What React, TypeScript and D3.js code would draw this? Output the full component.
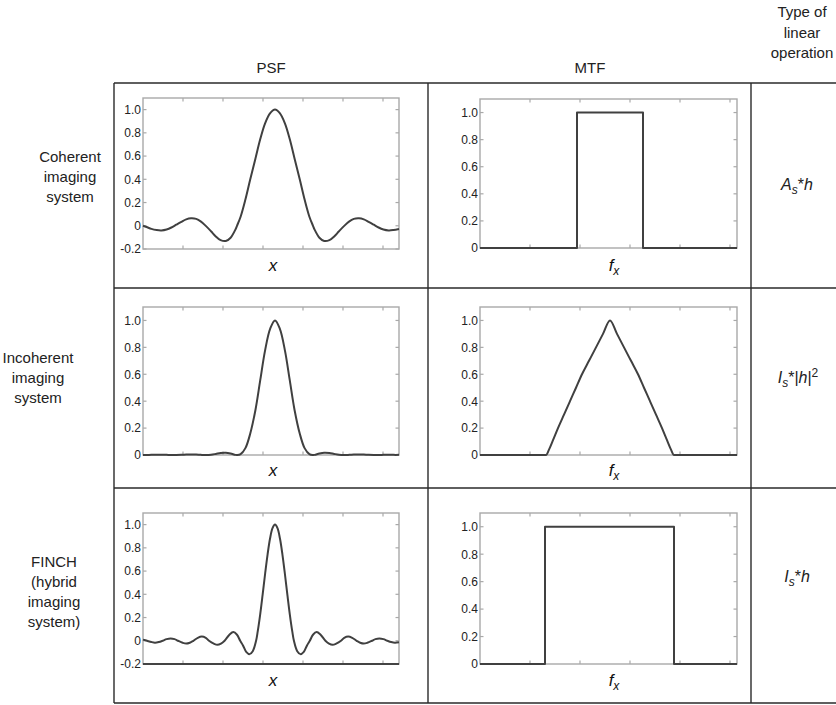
import React from 'react';
import * as d3 from 'd3';

// ---------- data ----------
const COLUMN_HEADERS = ['PSF', 'MTF'];
const OPERATION_HEADER = ['Type of', 'linear', 'operation'];
const ROW_LABELS = [
  ['Coherent', 'imaging', 'system'],
  ['Incoherent', 'imaging', 'system'],
  ['FINCH', '(hybrid', 'imaging', 'system)'],
];

const PSF_X_DOMAIN = [-3.3, 3.1];
const MTF_X_DOMAIN = [-2.6, 2.54];
const PSF_X_TICKS = [-2.3, -1.3, -0.3, 0.7, 1.7, 2.7];
const MTF_X_TICKS = [-1.6, -0.6, 0.4, 1.4, 2.4];
const Y_TICKS_SIGNED = [-0.2, 0, 0.2, 0.4, 0.6, 0.8, 1.0];
const Y_TICKS_POS = [0, 0.2, 0.4, 0.6, 0.8, 1.0];

const COHERENT_PSF_X = [-3.30, -3.21, -3.09, -2.96, -2.84, -2.71, -2.59, -2.47, -2.34, -2.22, -2.10, -1.97, -1.85, -1.73, -1.60, -1.48, -1.36, -1.23, -1.11, -0.99, -0.95, -0.86, -0.74, -0.62, -0.49, -0.37, -0.25, -0.12, 0, 0.12, 0.25, 0.37, 0.49, 0.62, 0.74, 0.86, 0.95, 0.99, 1.11, 1.23, 1.36, 1.48, 1.60, 1.73, 1.85, 1.97, 2.10, 2.22, 2.34, 2.47, 2.59, 2.71, 2.84, 2.96, 3.10];
const COHERENT_PSF_Y = [0.000, -0.011, -0.027, -0.037, -0.040, -0.032, -0.015, 0.009, 0.034, 0.055, 0.064, 0.059, 0.036, -0.001, -0.047, -0.092, -0.124, -0.131, -0.103, -0.033, 0.000, 0.078, 0.226, 0.398, 0.577, 0.744, 0.880, 0.969, 1.000, 0.969, 0.880, 0.744, 0.577, 0.398, 0.226, 0.078, 0.000, -0.033, -0.103, -0.131, -0.124, -0.092, -0.047, -0.001, 0.036, 0.059, 0.064, 0.055, 0.034, 0.009, -0.015, -0.032, -0.040, -0.037, -0.028];

const INCOHERENT_PSF_X = [-3.30, -3.21, -3.09, -2.96, -2.84, -2.71, -2.59, -2.47, -2.34, -2.22, -2.10, -1.97, -1.85, -1.73, -1.60, -1.48, -1.36, -1.23, -1.11, -0.99, -0.95, -0.86, -0.74, -0.62, -0.49, -0.37, -0.25, -0.12, 0, 0.12, 0.25, 0.37, 0.49, 0.62, 0.74, 0.86, 0.95, 0.99, 1.11, 1.23, 1.36, 1.48, 1.60, 1.73, 1.85, 1.97, 2.10, 2.22, 2.34, 2.47, 2.59, 2.71, 2.84, 2.96, 3.10];
const INCOHERENT_PSF_Y = [0.000, 0.000, 0.001, 0.001, 0.002, 0.001, 0.000, 0.000, 0.001, 0.003, 0.004, 0.003, 0.001, 0.000, 0.002, 0.008, 0.015, 0.017, 0.011, 0.001, 0.000, 0.006, 0.051, 0.158, 0.333, 0.554, 0.774, 0.939, 1.000, 0.939, 0.774, 0.554, 0.333, 0.158, 0.051, 0.006, 0.000, 0.001, 0.011, 0.017, 0.015, 0.008, 0.002, 0.000, 0.001, 0.003, 0.004, 0.003, 0.001, 0.000, 0.000, 0.001, 0.002, 0.001, 0.001];

const FINCH_PSF_X = [-3.30, -3.20, -3.09, -3.00, -2.905, -2.81, -2.71, -2.61, -2.51, -2.425, -2.31, -2.22, -2.13, -2.04, -1.93, -1.83, -1.73, -1.65, -1.53, -1.44, -1.35, -1.26, -1.14, -1.04, -0.95, -0.87, -0.80, -0.72, -0.635, -0.556, -0.473, -0.433, -0.371, -0.309, -0.247, -0.185, -0.124, -0.062, 0, 0.062, 0.124, 0.185, 0.247, 0.309, 0.371, 0.433, 0.473, 0.556, 0.635, 0.72, 0.80, 0.87, 0.95, 1.04, 1.14, 1.26, 1.35, 1.44, 1.53, 1.65, 1.73, 1.83, 1.93, 2.04, 2.13, 2.22, 2.31, 2.425, 2.51, 2.61, 2.71, 2.81, 2.905, 3.00, 3.10];
const FINCH_PSF_Y = [0.010, 0.000, -0.011, -0.016, -0.011, 0.000, 0.014, 0.020, 0.014, 0.000, -0.017, -0.024, -0.017, 0.000, 0.025, 0.036, 0.025, 0.000, -0.025, -0.035, -0.025, 0.000, 0.052, 0.075, 0.052, 0.000, -0.040, -0.095, -0.115, -0.090, 0.000, 0.078, 0.226, 0.398, 0.577, 0.744, 0.880, 0.969, 1.000, 0.969, 0.880, 0.744, 0.577, 0.398, 0.226, 0.078, 0.000, -0.090, -0.115, -0.095, -0.040, 0.000, 0.052, 0.075, 0.052, 0.000, -0.025, -0.035, -0.025, 0.000, 0.025, 0.036, 0.025, 0.000, -0.017, -0.024, -0.017, 0.000, 0.014, 0.020, 0.014, 0.000, -0.011, -0.016, -0.012];

const COHERENT_MTF_X = [-2.6, -0.66, -0.66, 0.66, 0.66, 2.54];
const COHERENT_MTF_Y = [0, 0, 1, 1, 0, 0];
const INCOHERENT_MTF_X = [-2.6, -1.28, -1.22, -1.14, -1.04, -0.92, -0.80, -0.68, -0.56, -0.42, -0.28, -0.14, 0, 0.14, 0.28, 0.42, 0.56, 0.68, 0.80, 0.92, 1.04, 1.14, 1.22, 1.28, 2.54];
const INCOHERENT_MTF_Y = [0, 0, 0.04, 0.11, 0.20, 0.30, 0.40, 0.50, 0.60, 0.70, 0.80, 0.90, 1.00, 0.90, 0.80, 0.70, 0.60, 0.50, 0.40, 0.30, 0.20, 0.11, 0.04, 0, 0];
const FINCH_MTF_X = [-2.6, -1.30, -1.30, 1.28, 1.28, 2.54];
const FINCH_MTF_Y = [0, 0, 1, 1, 0, 0];

// ---------- drawing ----------
const FONT = 'Liberation Sans, Arial, Helvetica, sans-serif';
const LINE_COLOR = '#2a2a2a';
const CURVE_COLOR = '#404040';
const BOX_COLOR = '#a9a9a9';

type PlotProps = {
  x0: number; x1: number; y0: number; y1: number;
  xDomain: number[]; yDomain: number[];
  xTicks: number[]; yTicks: number[];
  xs: number[]; ys: number[];
  curve: any;
  darkBottom?: boolean;
};

function Plot(p: PlotProps) {
  const xs = d3.scaleLinear().domain(p.xDomain).range([p.x0, p.x1]);
  const ys = d3.scaleLinear().domain(p.yDomain).range([p.y1, p.y0]);
  const data: [number, number][] = p.xs.map((x, i) => [x, p.ys[i]]);
  const line = d3.line<[number, number]>()
    .x(d => xs(d[0]))
    .y(d => ys(d[1]))
    .curve(p.curve);
  const tl = 3.5;
  return (
    <g>
      <rect x={p.x0} y={p.y0} width={p.x1 - p.x0} height={p.y1 - p.y0}
        fill="#fff" stroke={BOX_COLOR} strokeWidth={1.4} />
      {p.xTicks.map((t, i) => (
        <g key={'xt' + i} stroke={BOX_COLOR} strokeWidth={1.2}>
          <line x1={xs(t)} x2={xs(t)} y1={p.y1} y2={p.y1 - tl} />
          <line x1={xs(t)} x2={xs(t)} y1={p.y0} y2={p.y0 + tl} />
        </g>
      ))}
      {p.yTicks.map((t, i) => (
        <g key={'yt' + i}>
          <line x1={p.x0} x2={p.x0 + tl} y1={ys(t)} y2={ys(t)} stroke={BOX_COLOR} strokeWidth={1.2} />
          <line x1={p.x1} x2={p.x1 - tl} y1={ys(t)} y2={ys(t)} stroke={BOX_COLOR} strokeWidth={1.2} />
          <text x={p.x0 - 2} y={ys(t)} dy="0.36em" textAnchor="end" fontSize={12}
            fontFamily={FONT} fill="#222">{t === 0 ? '0' : t.toFixed(1)}</text>
        </g>
      ))}
      {p.darkBottom && (
        <line x1={p.x0} x2={p.x1} y1={p.y1} y2={p.y1} stroke="#444" strokeWidth={2} />
      )}
      <path d={line(data) || ''} fill="none" stroke={CURVE_COLOR} strokeWidth={2}
        strokeLinejoin="round" />
    </g>
  );
}

function XLabel({ x, y }: { x: number; y: number }) {
  return (
    <text x={x} y={y} textAnchor="middle" fontSize={17} fontStyle="italic" fontFamily={FONT} fill="#111">x</text>
  );
}

function FxLabel({ x, y }: { x: number; y: number }) {
  return (
    <text x={x} y={y} textAnchor="middle" fontSize={17} fontStyle="italic" fontFamily={FONT} fill="#111">
      f<tspan dy={4} fontSize={12}>x</tspan>
    </text>
  );
}

const ROWS = [
  { top: 98, bottom: 249, mtfTop: 99, mtfBottom: 248, psfX: COHERENT_PSF_X, psfY: COHERENT_PSF_Y, mtfX: COHERENT_MTF_X, mtfY: COHERENT_MTF_Y, signed: true, xLab: 271, darkBottom: false, mtfCurve: d3.curveLinear },
  { top: 307, bottom: 455, mtfTop: 307, mtfBottom: 455, psfX: INCOHERENT_PSF_X, psfY: INCOHERENT_PSF_Y, mtfX: INCOHERENT_MTF_X, mtfY: INCOHERENT_MTF_Y, signed: false, xLab: 476, darkBottom: false, mtfCurve: d3.curveMonotoneX },
  { top: 513, bottom: 664, mtfTop: 513, mtfBottom: 664, psfX: FINCH_PSF_X, psfY: FINCH_PSF_Y, mtfX: FINCH_MTF_X, mtfY: FINCH_MTF_Y, signed: true, xLab: 686, darkBottom: true, mtfCurve: d3.curveLinear },
];

const ROW_LABEL_POS = [
  { cx: 70, y: 162 },
  { cx: 38, y: 363 },
  { cx: 54, y: 567 },
];

export default function App() {
  const W = 836, H = 705;
  const tableLeft = 114, midX = 428, opX = 751;
  const hLines = [83, 288, 488, 703];
  return (
    <svg width={W} height={H} style={{ position: 'absolute', left: 0, top: 0, background: '#fff' }}
      fontFamily={FONT}>
      <rect x={0} y={0} width={W} height={H} fill="#fff" />
      {/* headers */}
      <text x={271} y={73} textAnchor="middle" fontSize={15} fill="#222">{COLUMN_HEADERS[0]}</text>
      <text x={590} y={73} textAnchor="middle" fontSize={15} fill="#222">{COLUMN_HEADERS[1]}</text>
      {OPERATION_HEADER.map((t, i) => (
        <text key={t} x={802} y={17 + i * 20.5} textAnchor="middle" fontSize={15} fill="#222">{t}</text>
      ))}
      {/* table lines */}
      {hLines.map((y, i) => (
        <line key={'h' + i} x1={tableLeft} x2={W} y1={y} y2={y} stroke={LINE_COLOR} strokeWidth={1.4} />
      ))}
      {[tableLeft, midX, opX].map((x, i) => (
        <line key={'v' + i} x1={x} x2={x} y1={hLines[0]} y2={hLines[3]} stroke={LINE_COLOR} strokeWidth={1.4} />
      ))}
      {/* row labels */}
      {ROW_LABELS.map((lines, r) => (
        <g key={'rl' + r}>
          {lines.map((t, i) => (
            <text key={t + i} x={ROW_LABEL_POS[r].cx} y={ROW_LABEL_POS[r].y + i * 20}
              textAnchor="middle" fontSize={15} fill="#222">{t}</text>
          ))}
        </g>
      ))}
      {/* plots */}
      {ROWS.map((r, i) => (
        <g key={'row' + i}>
          <Plot x0={143} x1={399} y0={r.top} y1={r.bottom}
            xDomain={PSF_X_DOMAIN} yDomain={[r.signed ? -0.2 : 0, 1.1]}
            xTicks={PSF_X_TICKS} yTicks={r.signed ? Y_TICKS_SIGNED : Y_TICKS_POS}
            xs={r.psfX} ys={r.psfY} curve={d3.curveCatmullRom.alpha(0.5)} darkBottom={r.darkBottom} />
          <Plot x0={480} x1={737} y0={r.mtfTop} y1={r.mtfBottom}
            xDomain={MTF_X_DOMAIN} yDomain={[0, 1.1]}
            xTicks={MTF_X_TICKS} yTicks={Y_TICKS_POS}
            xs={r.mtfX} ys={r.mtfY} curve={r.mtfCurve} />
          <XLabel x={273} y={r.xLab} />
          <FxLabel x={614} y={r.xLab} />
        </g>
      ))}
      {/* operations */}
      <text x={797} y={190} textAnchor="middle" fontSize={16} fill="#222">
        <tspan fontStyle="italic">A</tspan>
        <tspan dy={4} fontSize={12} fontStyle="italic">s</tspan>
        <tspan dy={-4}>*</tspan>
        <tspan fontStyle="italic">h</tspan>
      </text>
      <text x={798} y={383} textAnchor="middle" fontSize={16} fill="#222">
        <tspan fontStyle="italic">I</tspan>
        <tspan dy={4} fontSize={12} fontStyle="italic">s</tspan>
        <tspan dy={-4}>*|</tspan>
        <tspan fontStyle="italic">h</tspan>
        <tspan>|</tspan>
        <tspan dy={-6} fontSize={12}>2</tspan>
      </text>
      <text x={797} y={582} textAnchor="middle" fontSize={16} fill="#222">
        <tspan fontStyle="italic">I</tspan>
        <tspan dy={4} fontSize={12} fontStyle="italic">s</tspan>
        <tspan dy={-4}>*</tspan>
        <tspan fontStyle="italic">h</tspan>
      </text>
    </svg>
  );
}
